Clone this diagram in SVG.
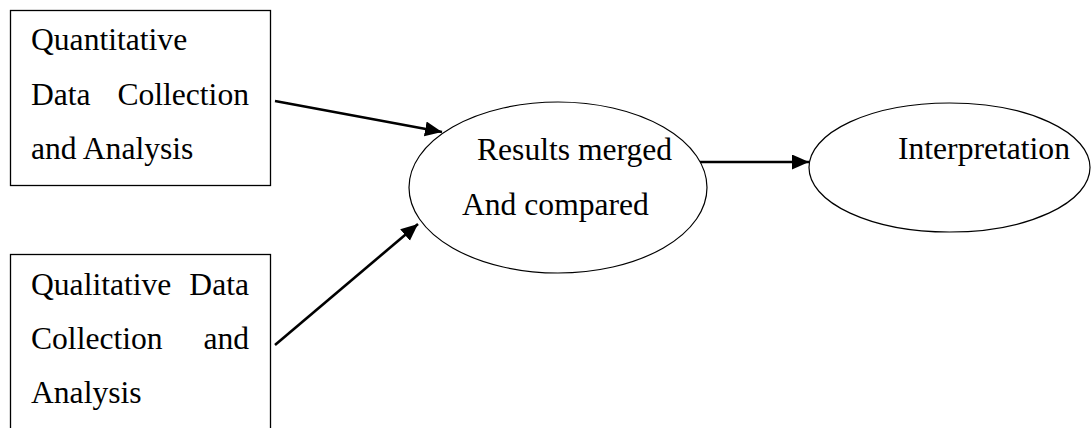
<svg xmlns="http://www.w3.org/2000/svg" width="1091" height="428" viewBox="0 0 1091 428">
  <style>
    .box { fill: #fff; stroke: #000; stroke-width: 1.3; }
    .ell { fill: #fff; stroke: #000; stroke-width: 1.2; }
    .conn { stroke: #000; stroke-width: 2.6; fill: none; }
  </style>
  <defs>
    <marker id="ah" markerUnits="userSpaceOnUse" markerWidth="18" markerHeight="16" refX="17" refY="7.5" orient="auto">
      <path d="M0,0 L17,7.5 L0,15 Z" fill="#000"/>
    </marker>
  </defs>
  <rect width="1091" height="428" fill="#fff"/>
  <g font-family="Liberation Serif, Times New Roman, serif" font-size="31.6" fill="#000">
    <g id="quantitative">
      <rect class="box" x="10.5" y="10.5" width="260" height="175"/>
      <text x="31" y="50">Quantitative</text>
      <text x="31" y="105">Data</text>
      <text x="249" y="105" text-anchor="end">Collection</text>
      <text x="31" y="159">and Analysis</text>
    </g>
    <g id="qualitative">
      <rect class="box" x="10.5" y="254.5" width="260" height="200"/>
      <text x="31" y="295">Qualitative</text>
      <text x="249" y="295" text-anchor="end">Data</text>
      <text x="31" y="349">Collection</text>
      <text x="249" y="349" text-anchor="end">and</text>
      <text x="31" y="403">Analysis</text>
    </g>
    <g id="results">
      <ellipse class="ell" cx="558" cy="187.5" rx="149" ry="85.5"/>
      <text x="477" y="160">Results merged</text>
      <text x="462" y="215">And compared</text>
    </g>
    <g id="interpretation">
      <ellipse class="ell" cx="949.5" cy="167.5" rx="140.5" ry="64.5"/>
      <text x="898" y="159">Interpretation</text>
    </g>
  </g>
  <g id="connectors">
    <line class="conn" x1="275" y1="101" x2="442" y2="132" marker-end="url(#ah)"/>
    <line class="conn" x1="275" y1="345" x2="418" y2="224" marker-end="url(#ah)"/>
    <line class="conn" x1="700" y1="162" x2="809" y2="162" marker-end="url(#ah)"/>
  </g>
</svg>
